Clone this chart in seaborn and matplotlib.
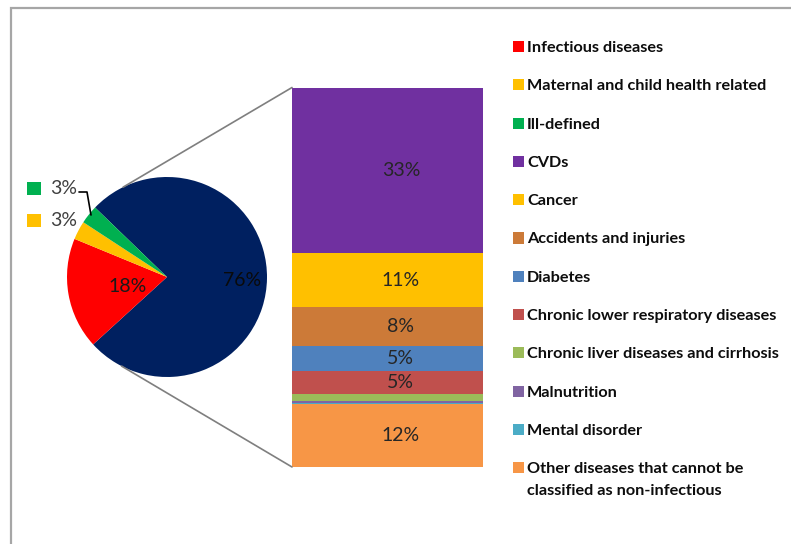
import numpy as np
import matplotlib
matplotlib.use("Agg")
import matplotlib.pyplot as plt
from matplotlib.patches import ConnectionPatch, Rectangle
import seaborn as sns

# ---- data ----
pie_labels = ["Non-infectious", "Infectious diseases",
              "Maternal and child health related", "Ill-defined"]
pie_values = [76, 18, 3, 3]
pie_text = ["76%", "18%", "3%", "3%"]
pie_colors = ["#002060", "#FF0000", "#FFC000", "#00B050"]

bar_labels = ["CVDs", "Cancer", "Accidents and injuries", "Diabetes",
              "Chronic lower respiratory diseases",
              "Chronic liver diseases and cirrhosis", "Malnutrition",
              "Mental disorder",
              "Other diseases that cannot be\nclassified as non-infectious"]
bar_values = [33.2, 10.8, 7.7, 5.0, 4.7, 1.4, 0.45, 0.1, 12.65]
bar_text = ["33%", "11%", "8%", "5%", "5%", "", "", "", "12%"]
bar_colors = ["#7030A0", "#FFC000", "#CC7A38", "#4F81BD", "#C0504D",
              "#9BBB59", "#8064A2", "#4BACC6", "#F79646"]

legend_labels = pie_labels[1:] + bar_labels
legend_colors = pie_colors[1:] + bar_colors

# ---- style ----
sns.set_theme(style="white")
plt.rcParams["font.family"] = ["Lato", "DejaVu Sans"]

W, H = 791, 544
fig = plt.figure(figsize=(W / 100, H / 100), dpi=100)
fig.patch.set_facecolor("white")


def frect(x0, y0, x1, y1):
    return [x0 / W, 1 - y1 / H, (x1 - x0) / W, (y1 - y0) / H]


# frame
fig.add_artist(Rectangle((11 / W, -0.2), 2, 1 - 8 / H + 0.2,
                         transform=fig.transFigure, fill=False,
                         edgecolor="#A6A6A6", lw=1.6, zorder=0))

# ---- pie ----
ax_pie = fig.add_axes(frect(67, 177, 267, 377))
ax_pie.pie(pie_values, colors=pie_colors, startangle=136,
           counterclock=False, radius=1, wedgeprops=dict(linewidth=0))
ax_pie.set_xlim(-1, 1)
ax_pie.set_ylim(-1, 1)
ax_pie.set_aspect("equal")
ax_pie.axis("off")

pct_size = 14
ax_pie.text(0.75, -0.04, pie_text[0], ha="center", va="center",
            fontsize=pct_size, color="#0A0A0A")
ax_pie.text(-0.39, -0.09, pie_text[1], ha="center", va="center",
            fontsize=pct_size, color="#1A1A1A")
# outside labels with legend keys
for txt, col, yy in [(pie_text[3], pie_colors[3], 0.89),
                     (pie_text[2], pie_colors[2], 0.565)]:
    ax_pie.text(-1.035, yy, txt, ha="center", va="center",
                fontsize=pct_size, color="#404040", clip_on=False)
    ax_pie.add_patch(Rectangle((-1.40, yy - 0.065), 0.14, 0.13,
                               facecolor=col, edgecolor="none",
                               clip_on=False))
ax_pie.plot([-0.88, -0.80, -0.76], [0.85, 0.85, 0.62], color="black",
            lw=1.2, clip_on=False)

# ---- stacked bar ----
ax_bar = fig.add_axes(frect(292, 87.5, 483, 467))
total = sum(bar_values)
tops = total - np.concatenate([[0], np.cumsum(bar_values)[:-1]])
for val, top, col, txt in zip(bar_values, tops, bar_colors, bar_text):
    ax_bar.bar(0, val, bottom=top - val, width=1, color=col,
               edgecolor="none", linewidth=0)
    if txt:
        ax_bar.text(0.07, top - val / 2, txt, ha="center", va="center",
                    fontsize=pct_size, color="#262626")
ax_bar.set_xlim(-0.5, 0.5)
ax_bar.set_ylim(0, total)
ax_bar.axis("off")

# ---- connector lines ----
for ang, yb in [(116, total), (243, 0)]:
    a = np.deg2rad(ang)
    con = ConnectionPatch(xyA=(np.cos(a), np.sin(a)), coordsA=ax_pie.transData,
                          xyB=(-0.5, yb), coordsB=ax_bar.transData,
                          color="#7F7F7F", lw=1.2)
    fig.add_artist(con)

# ---- legend ----
y0, step, line_gap = 46.5, 38.3, 22
for i, (lab, col) in enumerate(zip(legend_labels, legend_colors)):
    y = y0 + i * step
    fig.add_artist(Rectangle((513 / W, 1 - (y + 5.5) / H), 11 / W, 11 / H,
                             transform=fig.transFigure, facecolor=col,
                             edgecolor="none"))
    for k, line in enumerate(lab.split("\n")):
        fig.text(527 / W, 1 - (y + 5.5 + k * line_gap) / H, line,
                 ha="left", va="baseline", fontsize=11.7,
                 fontweight="bold", color="#0D0D0D")

fig.savefig("out.png", dpi=100)
